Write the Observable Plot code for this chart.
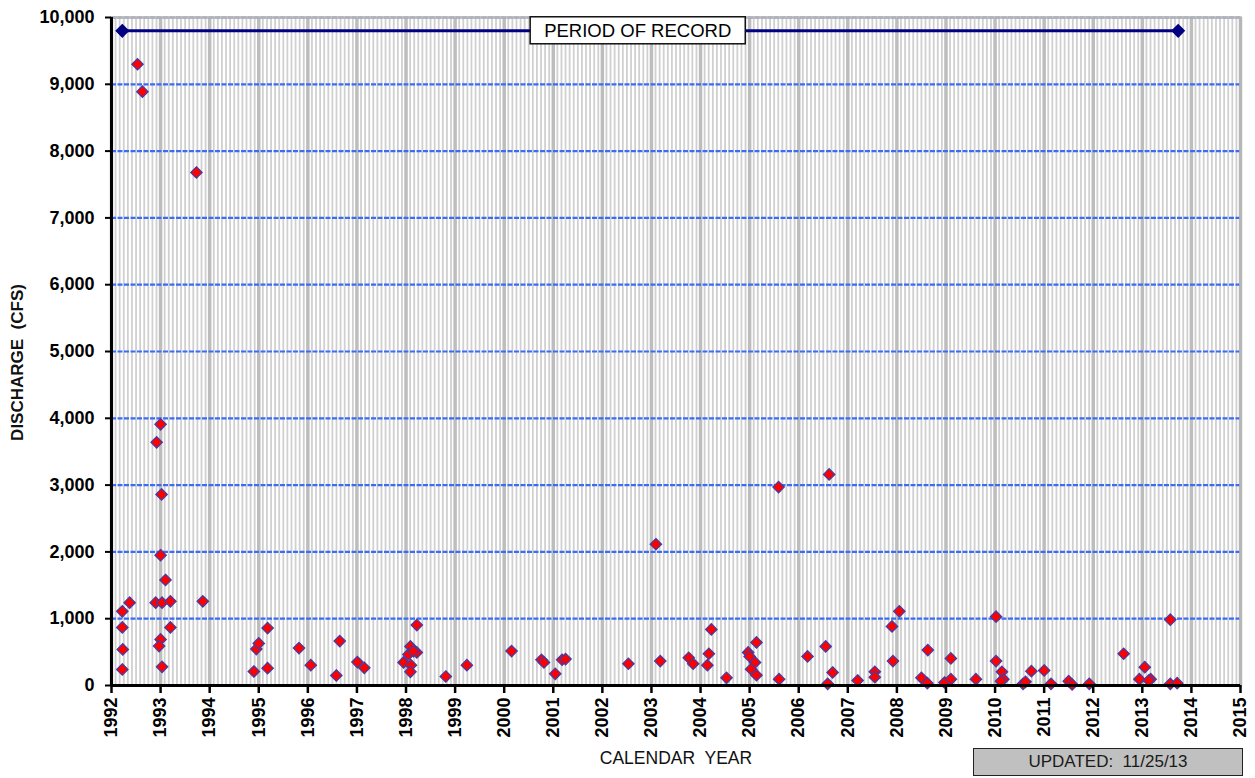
<!DOCTYPE html>
<html>
<head>
<meta charset="utf-8">
<script src="https://cdn.jsdelivr.net/npm/d3@7"></script>
<script src="https://cdn.jsdelivr.net/npm/@observablehq/plot@0.6"></script>
<style>
  html, body { margin: 0; padding: 0; background: #fff; }
  #wrap { position: relative; width: 1255px; height: 778px; }
  #updated {
    position: absolute; left: 973px; top: 748px; width: 268px; height: 26px;
    background: #c0c0c0; border: 1.5px solid #222; box-sizing: content-box;
    font-family: "Liberation Sans", Arial, sans-serif; font-size: 17px; color: #1a1a1a;
    display: flex; align-items: center; justify-content: center; white-space: pre;
  }
</style>
</head>
<body>
<div id="wrap"><div id="updated">UPDATED:  11/25/13</div></div>
<script>
// ---- data ----
const sampleYears = [
  1992.22, 1992.23, 1992.22, 1992.22, 1992.37, 1992.53, 1992.63, 1992.92, 1993.00, 1993.02,
  1993.00, 1993.10, 1992.90, 1993.03, 1993.20, 1993.20, 1993.00, 1992.97, 1993.03, 1993.73,
  1993.86, 1994.90, 1994.95, 1995.00, 1995.18, 1995.18, 1995.82, 1996.06, 1996.58, 1996.65,
  1997.01, 1997.15, 1997.95, 1998.09, 1998.05, 1998.22, 1998.22, 1998.10, 1998.09, 1998.15,
  1998.81, 1999.24, 2000.15, 2000.76, 2000.81, 2001.04, 2001.18, 2001.25, 2002.53, 2003.09,
  2003.18, 2003.76, 2003.85, 2004.14, 2004.17, 2004.22, 2004.53, 2004.97, 2005.00, 2005.14,
  2005.11, 2005.03, 2005.14, 2005.59, 2005.60, 2006.18, 2006.55, 2006.62, 2006.59, 2006.69,
  2007.20, 2007.55, 2007.55, 2007.90, 2008.05, 2007.92, 2008.50, 2008.62, 2008.63, 2008.97,
  2009.10, 2009.10, 2009.61, 2010.02, 2010.02, 2010.14, 2010.17, 2010.12, 2010.57, 2010.62,
  2010.74, 2011.00, 2011.14, 2011.50, 2011.57, 2011.92, 2012.62, 2012.94, 2013.05, 2013.17,
  2013.13, 2013.57, 2013.57, 2013.71
];
const dischargeCfs = [
  240, 540, 870, 1110, 1240, 9300, 8890, 3640, 3910, 2860,
  1950, 1580, 1240, 1240, 1260, 870, 690, 590, 280, 7680,
  1260, 210, 545, 630, 860, 260, 560, 305, 150, 665,
  350, 265, 345, 585, 465, 495, 905, 305, 205, 515,
  135, 305, 515, 385, 345, 175, 385, 395, 325, 2115,
  365, 415, 325, 305, 475, 840, 115, 495, 435, 645,
  345, 245, 155, 2970, 95, 435, 585, 3160, 25, 195,
  75, 205, 125, 885, 1110, 365, 115, 35, 530, 45,
  405, 95, 95, 1030, 365, 205, 95, 65, 25, 55,
  215, 225, 25, 65, 15, 25, 475, 95, 275, 95,
  75, 985, 25, 35
];
const periodYears = [1992.22, 2013.73];
const periodLevel = [9800, 9800];
const periodLabel = "PERIOD OF RECORD";
const periodLabelYear = 2002.72;
const yearTicks = d3.range(1992, 2016);
const cfsTicks = d3.range(0, 10001, 1000);
const yLabel = "DISCHARGE  (CFS)";
const xLabel = "CALENDAR  YEAR";

const samples = sampleYears.map((x, i) => ({x, y: dischargeCfs[i]}));
const period = periodYears.map((x, i) => ({x, y: periodLevel[i]}));
const monthLines = d3.range(0, 23 * 12 + 1).filter(i => i % 12 !== 0).map(i => 1992 + i / 12);

const font = '"Liberation Sans", Arial, sans-serif';

const chart = Plot.plot({
  width: 1255,
  height: 778,
  marginLeft: 111,
  marginRight: 15,
  marginTop: 17,
  marginBottom: 93,
  style: {fontFamily: font, fontSize: "18px", fontWeight: "bold", color: "#000", background: "#fff", overflow: "visible"},
  x: {domain: [1992, 2015], label: null},
  y: {domain: [0, 10000], label: null},
  marks: [
    Plot.ruleX(monthLines, {stroke: "#d0d0d0", strokeWidth: 1.8}),
    Plot.ruleX(yearTicks, {stroke: "#bdbdbd", strokeWidth: 3.5}),
    Plot.ruleY(cfsTicks.slice(1), {stroke: "#3a6cf4", strokeWidth: 2.2, strokeDasharray: "5,1.5"}),
    Plot.frame({stroke: "#b5b5b5", strokeWidth: 2.5}),
    Plot.line(period, {x: "x", y: "y", stroke: "#000080", strokeWidth: 3}),
    Plot.dot(period, {x: "x", y: "y", symbol: "diamond2", r: 5.4, fill: "#000080", stroke: "#000080"}),
    Plot.text([periodLabel], {x: () => periodLabelYear, y: () => 9800, text: d => d, fontSize: 18.5, fontWeight: "normal", fill: "#000", className: "period-label"}),
    Plot.dot(samples, {x: "x", y: "y", symbol: "diamond2", r: 5.1, fill: "#ff0000", stroke: "#4a3aa0", strokeWidth: 1.3}),
    Plot.ruleY([0], {stroke: "#000", strokeWidth: 3}),
    Plot.ruleX([1992], {stroke: "#000", strokeWidth: 3}),
    Plot.axisY({ticks: cfsTicks, tickFormat: d3.format(","), tickSize: 6, tickPadding: 11, stroke: "#000", strokeWidth: 2, label: null}),
    Plot.axisX({ticks: yearTicks, tickFormat: d => String(d), tickRotate: -90, tickSize: 8, tickPadding: 4, stroke: "#000", strokeWidth: 2.5, label: null}),
    Plot.text([yLabel], {frameAnchor: "left", dx: -94, dy: 11, rotate: -90, textAnchor: "middle", text: d => d, fontSize: 17, fontWeight: "bold", fill: "#111"}),
    Plot.text([xLabel], {frameAnchor: "bottom", dy: 78, text: d => d, fontSize: 17.5, fontWeight: "normal", fill: "#111"})
  ]
});

const wrap = document.getElementById("wrap");
wrap.insertBefore(chart, wrap.firstChild);

// white box behind the PERIOD OF RECORD label
const t = chart.querySelector(".period-label text");
if (t) {
  t.style.whiteSpace = "pre";
  const bb = t.getBBox();
  const ns = "http://www.w3.org/2000/svg";
  const r = document.createElementNS(ns, "rect");
  const padX = 14, padY = 4;
  r.setAttribute("x", bb.x - padX);
  r.setAttribute("y", bb.y - padY + 1);
  r.setAttribute("width", bb.width + 2 * padX);
  r.setAttribute("height", bb.height + 2 * padY - 2);
  r.setAttribute("fill", "#fff");
  r.setAttribute("stroke", "#111");
  r.setAttribute("stroke-width", "1.5");
  const tr = t.getAttribute("transform");
  if (tr) r.setAttribute("transform", tr);
  t.parentNode.insertBefore(r, t);
}
</script>
</body>
</html>
